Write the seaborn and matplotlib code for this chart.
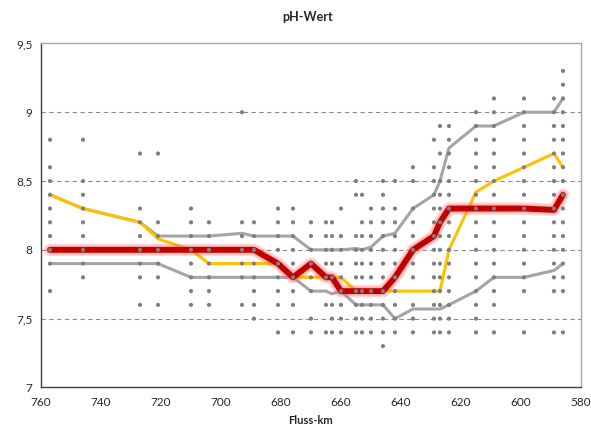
import numpy as np
import pandas as pd
import matplotlib
matplotlib.use("Agg")
import matplotlib.pyplot as plt
import seaborn as sns
from matplotlib.ticker import FuncFormatter

# ==========================================
# DATA
# ==========================================

# Measuring points (river km)
km = [757, 746, 727, 721, 710, 704, 693, 689, 681, 676, 670, 665, 663, 660,
      655, 653, 650, 646, 642, 636, 629, 627, 624, 615, 609, 599, 589, 586]

# Single measurements per measuring point
dot_values = [
    [8.8, 8.6, 8.5, 8.4, 8.3, 8.2, 8.1, 8.0, 7.9, 7.7],
    [8.8, 8.5, 8.4, 8.3, 8.2, 8.1, 8.0, 7.9, 7.8],
    [8.7, 8.3, 8.2, 8.1, 8.0, 7.9, 7.8, 7.6],
    [8.7, 8.2, 8.1, 8.0, 7.9, 7.8, 7.6],
    [8.3, 8.2, 8.1, 8.0, 7.9, 7.8, 7.7, 7.6],
    [8.2, 8.1, 8.0, 7.9, 7.8, 7.7, 7.6],
    [9.0, 8.2, 8.1, 8.0, 7.9, 7.8, 7.6],
    [8.2, 8.1, 8.0, 7.9, 7.8, 7.7, 7.6, 7.5],
    [8.3, 8.2, 8.1, 8.0, 7.9, 7.8, 7.7, 7.6, 7.4],
    [8.3, 8.2, 8.1, 8.0, 7.9, 7.8, 7.7, 7.6, 7.4],
    [8.2, 8.1, 8.0, 7.9, 7.8, 7.7, 7.5, 7.4],
    [8.2, 8.1, 8.0, 7.9, 7.8, 7.6, 7.4],
    [8.2, 8.1, 8.0, 7.9, 7.8, 7.6, 7.5, 7.4],
    [8.3, 8.1, 8.0, 7.9, 7.8, 7.7, 7.6, 7.5, 7.4],
    [8.5, 8.4, 8.1, 8.0, 7.9, 7.8, 7.7, 7.6, 7.5, 7.4],
    [8.4, 8.2, 8.1, 8.0, 7.9, 7.8, 7.7, 7.6, 7.5, 7.4],
    [8.3, 8.2, 8.1, 8.0, 7.9, 7.8, 7.7, 7.6, 7.5, 7.4],
    [8.5, 8.4, 8.3, 8.2, 8.1, 8.0, 7.9, 7.8, 7.7, 7.6, 7.5, 7.4, 7.3],
    [8.5, 8.3, 8.2, 8.1, 8.0, 7.9, 7.8, 7.7, 7.6, 7.5, 7.4],
    [8.6, 8.5, 8.3, 8.2, 8.1, 8.0, 7.9, 7.8, 7.6, 7.5, 7.4],
    [8.8, 8.6, 8.5, 8.4, 8.3, 8.2, 8.1, 8.0, 7.9, 7.8, 7.7, 7.6, 7.5, 7.4],
    [8.9, 8.7, 8.5, 8.4, 8.3, 8.2, 8.1, 8.0, 7.9, 7.8, 7.7, 7.6, 7.5, 7.4],
    [8.9, 8.8, 8.7, 8.6, 8.5, 8.4, 8.3, 8.2, 8.1, 8.0, 7.9, 7.8, 7.7, 7.6, 7.5, 7.4],
    [9.0, 8.9, 8.8, 8.7, 8.6, 8.5, 8.4, 8.3, 8.2, 8.1, 8.0, 7.9, 7.8, 7.7, 7.6, 7.5, 7.4],
    [9.1, 9.0, 8.9, 8.8, 8.7, 8.6, 8.5, 8.4, 8.3, 8.2, 8.1, 8.0, 7.9, 7.8, 7.7, 7.6, 7.4],
    [9.1, 9.0, 8.9, 8.8, 8.7, 8.6, 8.5, 8.4, 8.3, 8.2, 8.1, 8.0, 7.9, 7.8, 7.7, 7.4],
    [9.1, 9.0, 8.9, 8.8, 8.7, 8.6, 8.5, 8.4, 8.3, 8.2, 8.1, 8.0, 7.9, 7.8, 7.7, 7.4],
    [9.3, 9.2, 9.1, 9.0, 8.9, 8.8, 8.7, 8.6, 8.5, 8.4, 8.3, 8.2, 8.1, 8.0, 7.9, 7.8, 7.7, 7.4],
]

# Upper / lower envelope (gray), yellow curve, red median curve
upper = [8.4, 8.3, 8.2, 8.1, 8.1, 8.1, 8.12, 8.1, 8.1, 8.1, 8.0, 8.0, 8.0, 8.0,
         8.01, 8.0, 8.02, 8.1, 8.12, 8.3, 8.4, 8.5, 8.74, 8.9, 8.9, 9.0, 9.0, 9.1]
lower = [7.9, 7.9, 7.9, 7.9, 7.8, 7.8, 7.8, 7.8, 7.8, 7.8, 7.7, 7.7, 7.68, 7.7,
         7.6, 7.6, 7.6, 7.6, 7.5, 7.57, 7.57, 7.57, 7.6, 7.7, 7.8, 7.8, 7.85, 7.9]
yellow = [8.4, 8.3, 8.2, 8.08, 8.0, 7.9, 7.9, 7.9, 7.9, 7.8, 7.8, 7.8, 7.8, 7.8,
          7.7, 7.7, 7.7, 7.7, 7.7, 7.7, 7.7, 7.7, 8.0, 8.42, 8.5, 8.6, 8.7, 8.6]
median = [8.0, 8.0, 8.0, 8.0, 8.0, 8.0, 8.0, 8.0, 7.9, 7.8, 7.9, 7.8, 7.8, 7.7,
          7.7, 7.7, 7.7, 7.7, 7.8, 8.0, 8.1, 8.2, 8.3, 8.3, 8.3, 8.3, 8.29, 8.4]

y_ticks = [7, 7.5, 8, 8.5, 9, 9.5]
x_ticks = [760, 740, 720, 700, 680, 660, 640, 620, 600, 580]

# ==========================================
# PLOT
# ==========================================

sns.set_theme(style="white")
plt.rcParams["font.family"] = ["Lato", "DejaVu Sans"]

dots = pd.DataFrame([(k, v) for k, vals in zip(km, dot_values) for v in vals],
                    columns=["km", "ph"])
lines = pd.DataFrame({"km": km, "upper": upper, "lower": lower,
                      "yellow": yellow, "median": median})

fig = plt.figure(figsize=(5.91, 4.30), dpi=100)
ax = fig.add_axes([0.0694, 0.099, 0.9136, 0.80])

# dashed horizontal gridlines
for y in y_ticks[1:-1]:
    ax.axhline(y, color="#8C8C8C", lw=0.8, ls=(0, (4, 3)), zorder=0)

sns.lineplot(data=lines, x="km", y="upper", color="#A5A5A5", lw=2.2, ax=ax, zorder=2)
sns.lineplot(data=lines, x="km", y="lower", color="#A5A5A5", lw=2.2, ax=ax, zorder=2)
sns.lineplot(data=lines, x="km", y="yellow", color="#FFC000", lw=2.2, ax=ax, zorder=3)

# red line with soft glow
sns.lineplot(data=lines, x="km", y="median", color="#FF5A5A", lw=9, alpha=0.25, ax=ax, zorder=4)
sns.lineplot(data=lines, x="km", y="median", color="#FF7070", lw=6.5, alpha=0.35, ax=ax, zorder=4)
sns.lineplot(data=lines, x="km", y="median", color="#C00000", lw=4.2, ax=ax, zorder=5)

sns.scatterplot(data=dots, x="km", y="ph", color="#7F7F7F", s=9, marker="o",
                edgecolor="none", ax=ax, zorder=6)

for line in ax.get_lines():
    line.set_solid_joinstyle("round")
    line.set_solid_capstyle("round")

ax.set_xlim(760, 580)
ax.set_ylim(7, 9.5)
ax.set_xticks(x_ticks)
ax.set_yticks(y_ticks)
ax.yaxis.set_major_formatter(FuncFormatter(lambda v, p: f"{v:g}".replace(".", ",")))
ax.tick_params(axis="x", length=4, width=0.8, color="#595959", labelsize=8.5, pad=3)
ax.tick_params(axis="y", length=0, labelsize=8.5, pad=6)

for side in ["left", "bottom"]:
    ax.spines[side].set_color("#404040")
    ax.spines[side].set_linewidth(1.0)
for side in ["top", "right"]:
    ax.spines[side].set_color("#A6A6A6")
    ax.spines[side].set_linewidth(1.0)

ax.set_ylabel("")
ax.set_xlabel("Fluss-km", fontsize=8, fontweight="bold", labelpad=5)
fig.suptitle("pH-Wert", x=0.52, y=0.975, fontsize=9, fontweight="bold")

plt.savefig("out.png", dpi=100)
plt.close()
